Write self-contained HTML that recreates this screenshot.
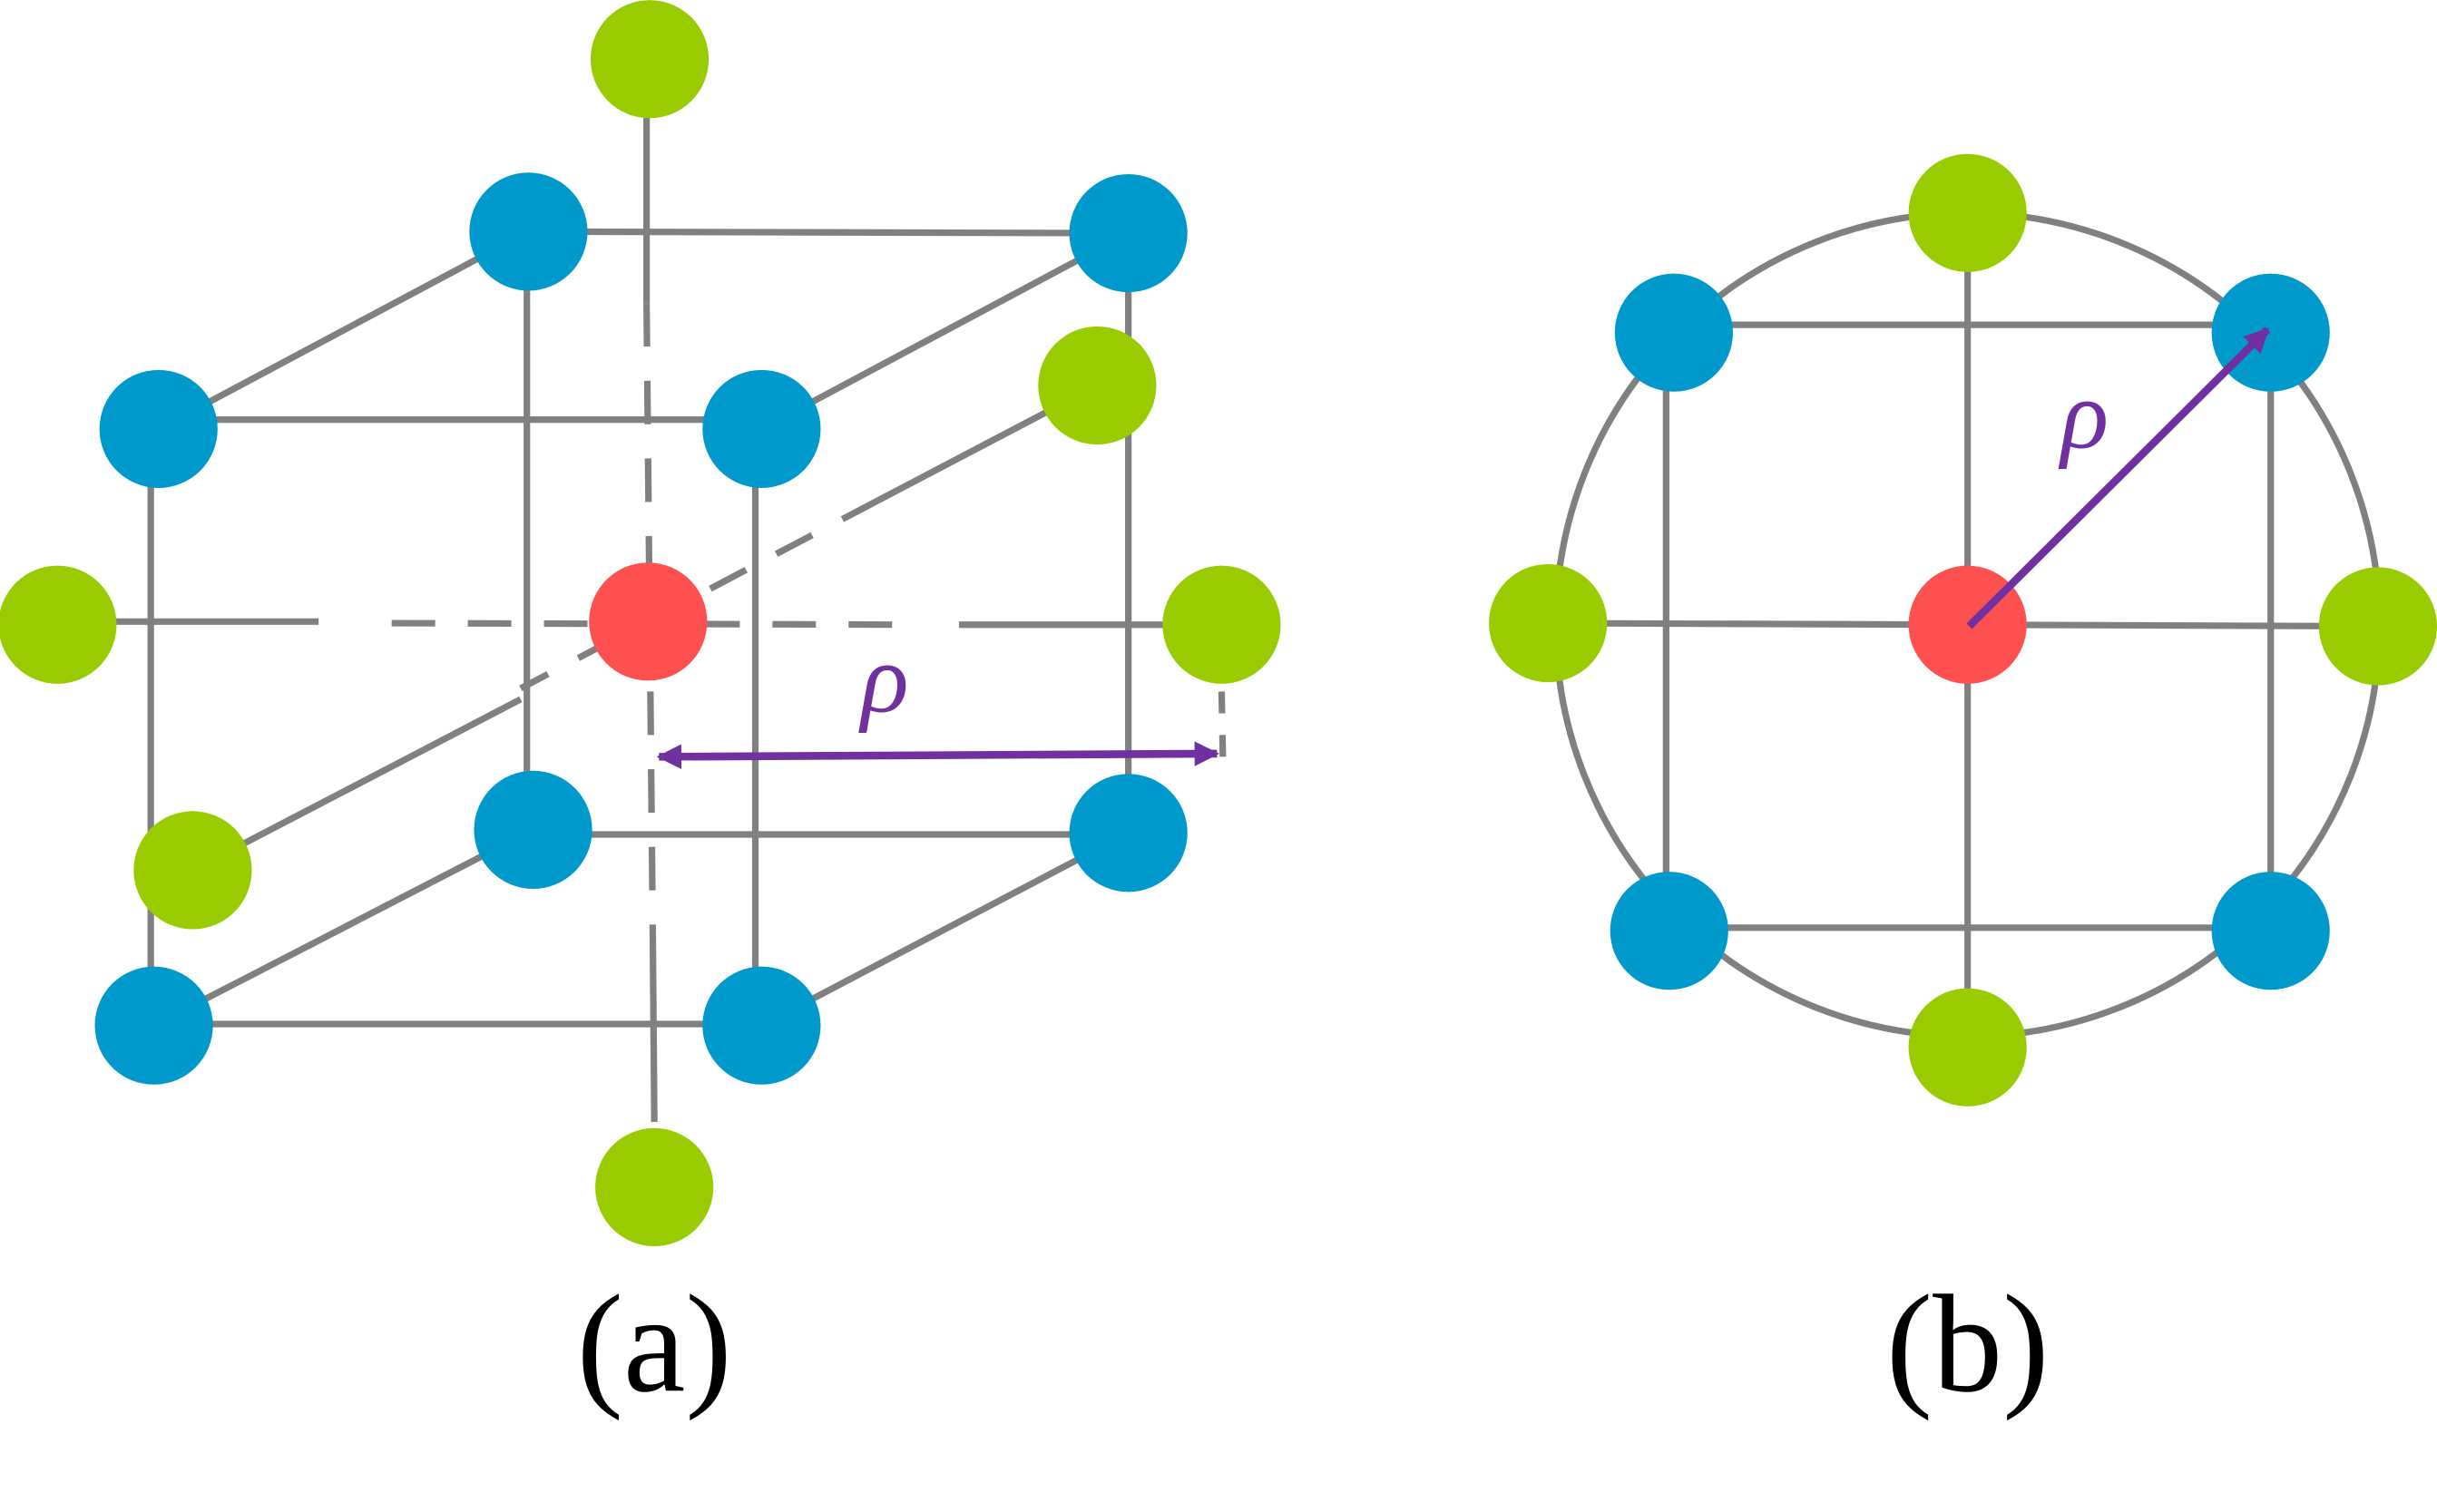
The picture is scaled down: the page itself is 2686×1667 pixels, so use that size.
<!DOCTYPE html>
<html><head><style>html,body{margin:0;padding:0;background:#fff}svg{display:block}</style></head>
<body>
<svg width="2686" height="1667" viewBox="0 0 1568 973" xmlns="http://www.w3.org/2000/svg">
<defs>
<marker id="ah" viewBox="0 0 10 10" refX="9" refY="5" markerWidth="3.2" markerHeight="3.2" orient="auto-start-reverse">
<path d="M0,0 L10,5 L0,10 z" fill="#7030a0"/></marker>
</defs>
<g stroke="#808080" stroke-width="4.2" fill="none">
<line x1="340" y1="149" x2="726" y2="150"/>
<line x1="102" y1="270" x2="490" y2="270"/>
<line x1="343" y1="537" x2="726" y2="537"/>
<line x1="99" y1="659" x2="490" y2="659"/>
<line x1="339" y1="149" x2="339" y2="534"/>
<line x1="726" y1="150" x2="726" y2="536"/>
<line x1="97" y1="276" x2="97" y2="660"/>
<line x1="486" y1="276" x2="486" y2="660"/>
<line x1="102" y1="276" x2="340" y2="149"/>
<line x1="490" y1="276" x2="726" y2="150"/>
<line x1="99" y1="660" x2="343" y2="534"/>
<line x1="490" y1="660" x2="726" y2="536"/>
<line x1="706" y1="248" x2="565" y2="322"/>
<line x1="565" y1="322" x2="335" y2="443" stroke-dasharray="26,22"/>
<line x1="335" y1="450" x2="124" y2="560"/>
<line x1="416" y1="38" x2="416" y2="195"/>
<line x1="416" y1="195" x2="420" y2="600" stroke-dasharray="28,22"/>
<line x1="420" y1="600" x2="421" y2="722"/>
<line x1="37" y1="400" x2="205" y2="400"/>
<line x1="252" y1="401" x2="592" y2="402" stroke-dasharray="28,21"/>
<line x1="617" y1="402" x2="786" y2="402"/>
<line x1="786" y1="445" x2="787" y2="497" stroke-dasharray="14,14"/>
<ellipse cx="1266" cy="402" rx="265" ry="265"/>
<line x1="1077" y1="209" x2="1461" y2="209"/>
<line x1="1074" y1="597" x2="1461" y2="597"/>
<line x1="1072" y1="214" x2="1072" y2="599"/>
<line x1="1461" y1="214" x2="1461" y2="599"/>
<line x1="1266" y1="137" x2="1266" y2="674"/>
<line x1="996" y1="401" x2="1530" y2="403"/>
</g>
<g>
<circle cx="418" cy="38" r="38" fill="#99cc00"/>
<circle cx="706" cy="248" r="38" fill="#99cc00"/>
<circle cx="37" cy="402" r="38" fill="#99cc00"/>
<circle cx="786" cy="402" r="38" fill="#99cc00"/>
<circle cx="124" cy="560" r="38" fill="#99cc00"/>
<circle cx="421" cy="764" r="38" fill="#99cc00"/>
<circle cx="340" cy="149" r="38" fill="#0099cc"/>
<circle cx="726" cy="150" r="38" fill="#0099cc"/>
<circle cx="102" cy="276" r="38" fill="#0099cc"/>
<circle cx="490" cy="276" r="38" fill="#0099cc"/>
<circle cx="343" cy="534" r="38" fill="#0099cc"/>
<circle cx="726" cy="536" r="38" fill="#0099cc"/>
<circle cx="99" cy="660" r="38" fill="#0099cc"/>
<circle cx="490" cy="660" r="38" fill="#0099cc"/>
<circle cx="417" cy="400" r="38" fill="#ff5050"/>
<circle cx="1266" cy="137" r="38" fill="#99cc00"/>
<circle cx="996" cy="401" r="38" fill="#99cc00"/>
<circle cx="1530" cy="403" r="38" fill="#99cc00"/>
<circle cx="1266" cy="674" r="38" fill="#99cc00"/>
<circle cx="1077" cy="214" r="38" fill="#0099cc"/>
<circle cx="1461" cy="214" r="38" fill="#0099cc"/>
<circle cx="1074" cy="599" r="38" fill="#0099cc"/>
<circle cx="1461" cy="599" r="38" fill="#0099cc"/>
<circle cx="1266" cy="402" r="38" fill="#ff5050"/>
</g>
<g stroke="#7030a0" stroke-width="5" fill="none">
<line x1="424" y1="487" x2="783" y2="485" marker-start="url(#ah)" marker-end="url(#ah)"/>
<line x1="1267" y1="403" x2="1459" y2="212" marker-end="url(#ah)"/>
</g>
<g font-family="Liberation Serif, serif" fill="#7030a0" font-style="italic" font-size="64">
<text x="554" y="458">ρ</text>
<text x="1326" y="288">ρ</text>
</g>
<g font-family="Liberation Serif, serif" fill="#000" font-size="90" text-anchor="middle">
<text x="421" y="895">(a)</text>
<text x="1266" y="895">(b)</text>
</g>
</svg>
</body></html>
